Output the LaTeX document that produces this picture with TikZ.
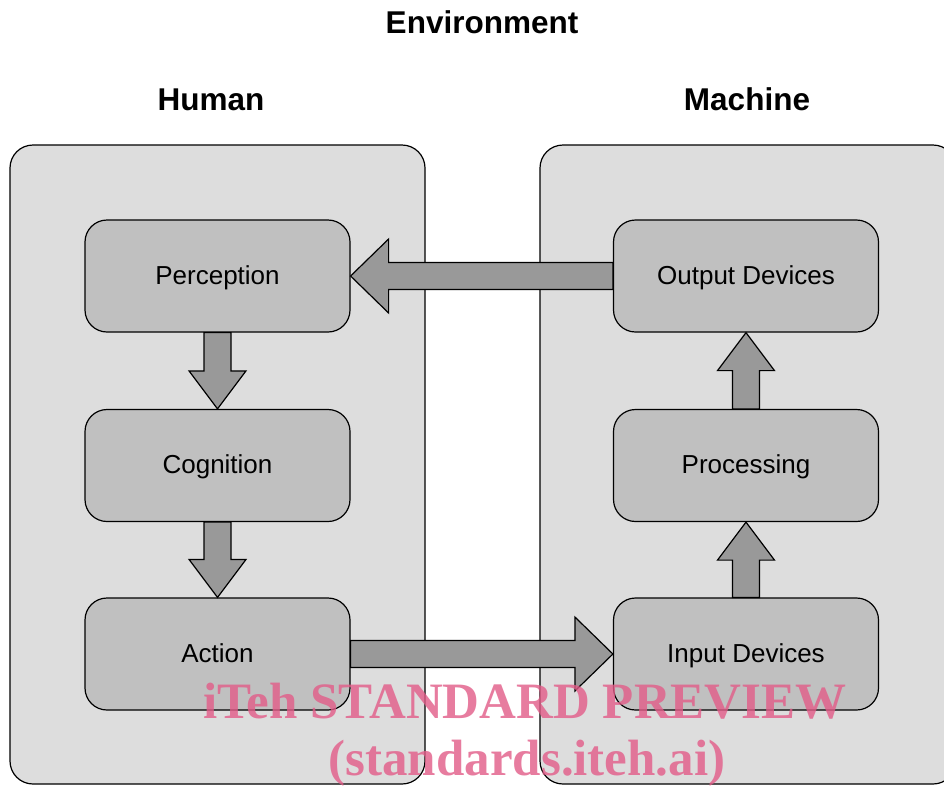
\documentclass[tikz,border=0pt]{standalone}
\usepackage{fontspec}
\setmainfont{Liberation Sans}
\newfontfamily\markfont{Liberation Serif}
\usetikzlibrary{calc}
\definecolor{panelgray}{RGB}{221,221,221}
\definecolor{boxgray}{RGB}{192,192,192}
\definecolor{arrowgray}{RGB}{153,153,153}
\definecolor{markpink}{RGB}{226,92,136}
\tikzset{
  panel/.style={draw, line width=1.2pt, fill=panelgray, rounded corners=23pt},
  stage/.style={draw, line width=1.2pt, fill=boxgray, rounded corners=22pt,
    minimum width=265pt, minimum height=112pt,
    font=\fontsize{26}{30}\selectfont, text height=18.7pt, text depth=2.7pt},
  heading/.style={anchor=base, font=\fontsize{31.5}{36}\selectfont\bfseries},
  bigarr/.style={draw, line width=1.2pt, fill=arrowgray, line join=miter},
  watermark/.style={anchor=base, text=markpink, text opacity=0.8,
    font=\markfont\bfseries\fontsize{51}{60}\selectfont}
}
% fat block arrow: start, end, half shaft, half head
\newcommand{\fatarrow}[4]{%
  \path (#2) coordinate (tip) ($(#2)!38pt!(#1)$) coordinate (base);
  \draw[bigarr] ($(#1)!#3!90:(#2)$) -- ($(base)!#3!90:(tip)$)
    -- ($(base)!#4!90:(tip)$) -- (tip) -- ($(base)!#4!-90:(tip)$)
    -- ($(base)!#3!-90:(tip)$) -- ($(#1)!#3!-90:(#2)$) -- cycle;}
\begin{document}
\begin{tikzpicture}[x=1pt, y=-1pt]
\clip (0,0) rectangle (944,785);
\fill[white] (0,0) rectangle (944,785);

% Headings
\node[heading] (env) at (482,33) {Environment};
\node[heading] (human) at (211,110) {Human};
\node[heading] (machine) at (747,110) {Machine};

% Left: human panel
\draw[panel] (10,145) rectangle (425,784);
\node[stage] (percep) at (217.5,276) {Perception};
\node[stage] (cognit) at (217.5,465.5) {Cognition};
\node[stage] (action) at (217.5,654) {Action};

% Right: machine panel
\draw[panel] (540,145) rectangle (956,784);
\node[stage] (outdev) at (746,276) {Output Devices};
\node[stage] (process) at (746,465.5) {Processing};
\node[stage] (indev) at (746,654) {Input Devices};

% Arrows
\fatarrow{percep.south}{cognit.north}{13.5pt}{28.5pt}
\fatarrow{cognit.south}{action.north}{13.5pt}{28.5pt}
\fatarrow{indev.north}{process.south}{13.5pt}{28.5pt}
\fatarrow{process.north}{outdev.south}{13.5pt}{28.5pt}
\fatarrow{outdev.west}{percep.east}{13.5pt}{37pt}
\fatarrow{action.east}{indev.west}{13.5pt}{37pt}

% Watermark
\node[watermark] (wmtop) at (525,718) {iTeh STANDARD PREVIEW};
\node[watermark] (wmbot) at (527,775) {(standards.iteh.ai)};
\end{tikzpicture}
\end{document}
